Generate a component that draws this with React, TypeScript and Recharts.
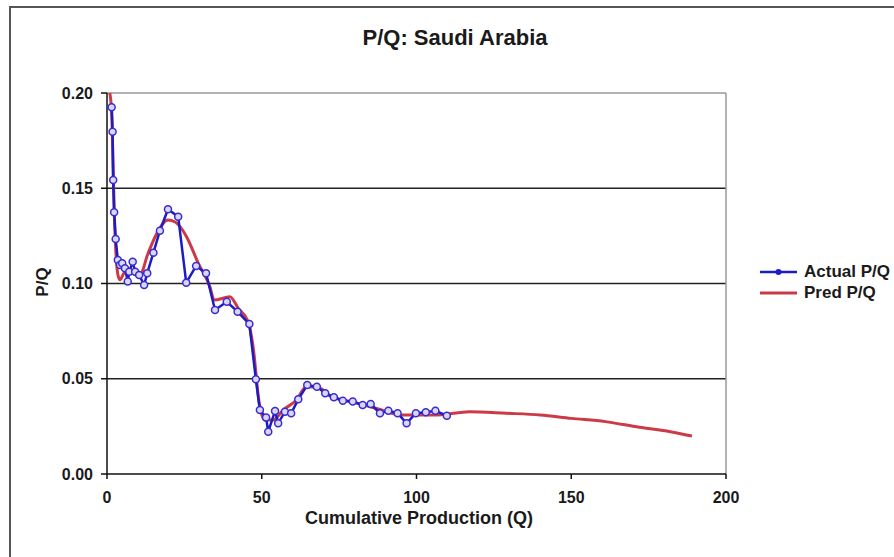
import { LineChart, Line, XAxis, YAxis, CartesianGrid, ReferenceLine, Legend } from 'recharts';

// Actual P/Q observations (cumulative production in Gb vs. P/Q)
const actualQ = [
  1.5, 1.8, 2.0, 2.3, 2.8, 3.5, 4.2, 4.9, 5.8, 6.7, 7.2, 8.3, 9.1, 10.4, 12.0, 13.0, 15.0, 17.1, 19.7, 23.0,
  25.6, 28.8, 32.0, 34.9, 38.7, 42.2, 46.0, 48.1, 49.4, 51.4, 52.1, 54.3, 55.3, 57.5, 59.5, 61.8, 64.7, 67.8,
  70.5, 73.3, 76.2, 79.4, 82.6, 85.2, 88.2, 90.9, 93.9, 96.8, 99.8, 103.0, 106.1, 109.8
];
const actualPQ = [
  0.1925, 0.1797, 0.1543, 0.1374, 0.1234, 0.1123, 0.1097, 0.1106, 0.108, 0.101, 0.1062, 0.1114, 0.1062, 0.1045,
  0.0992, 0.1054, 0.1162, 0.1277, 0.139, 0.1351, 0.1004, 0.1092, 0.1054, 0.0861, 0.0904, 0.0852, 0.0787, 0.0497,
  0.0336, 0.0296, 0.0222, 0.0331, 0.0266, 0.0327, 0.0319, 0.0392, 0.0467, 0.0458, 0.0424, 0.0403, 0.0385, 0.038,
  0.0362, 0.0367, 0.0319, 0.0332, 0.0319, 0.0266, 0.0319, 0.0324, 0.0332, 0.0306
];

// Fitted P/Q curve, extended past the last observation
const predQ = [
  0.9, 1.5, 2.0, 2.5, 3.0, 3.6, 4.2, 5.8, 7.5, 10.4, 13.3, 16.0, 19.7, 21.9, 25.7, 29.5, 33.3, 34.6, 39.7, 42.4,
  45.6, 47.2, 49.2, 51.0, 53.7, 56.9, 61.2, 64.4, 68.8, 72, 80, 88, 95, 100, 107, 117, 129, 140, 150, 161, 172,
  182, 189
];
const predPQ = [
  0.2, 0.19, 0.16, 0.13, 0.113, 0.104, 0.102, 0.106, 0.106, 0.1036, 0.116, 0.126, 0.1333, 0.1324, 0.1246, 0.1106,
  0.098, 0.0913, 0.093, 0.087, 0.08, 0.0668, 0.037, 0.0283, 0.0283, 0.0336, 0.0388, 0.0458, 0.045, 0.041, 0.0375,
  0.034, 0.031, 0.031, 0.031, 0.0327, 0.0319, 0.031, 0.0292, 0.0275, 0.0245, 0.0222, 0.0199
];

const xTicks = [0, 50, 100, 150, 200];
const yTicks = [0, 0.05, 0.1, 0.15, 0.2];

const actualData = actualQ.map((q, i) => ({ q, pq: actualPQ[i] }));
const predData = predQ.map((q, i) => ({ q, pq: predPQ[i] }));

const FONT = '"Liberation Sans", Arial, Helvetica, sans-serif';
const BLUE = '#1c1cc4';
const RED = '#cc3a48';

const renderLegend = () => (
  <div style={{ fontFamily: FONT, fontWeight: 700, fontSize: 17, color: '#1a1a1a' }}>
    {[
      { name: 'Actual P/Q', color: BLUE, dot: true },
      { name: 'Pred P/Q', color: RED, dot: false }
    ].map((item) => (
      <div key={item.name} style={{ display: 'flex', alignItems: 'center', height: 20.6 }}>
        <svg width={40} height={10} style={{ marginRight: 4 }}>
          <line x1={0} y1={5} x2={37} y2={5} stroke={item.color} strokeWidth={item.dot ? 2.5 : 3} />
          {item.dot && <circle cx={18.5} cy={5} r={3} fill={item.color} />}
        </svg>
        <span>{item.name}</span>
      </div>
    ))}
  </div>
);

export default function App() {
  return (
    <div style={{ position: 'absolute', left: 0, top: 0, width: 894, height: 557, background: '#fff', overflow: 'hidden' }}>
      {/* sheet frame */}
      <div style={{ position: 'absolute', left: 9, top: 6, width: 885, height: 551, borderLeft: '2px solid #555', borderTop: '2px solid #555' }} />

      <div
        style={{
          position: 'absolute', left: 0, width: 894, top: 25, textAlign: 'center', paddingLeft: 16, boxSizing: 'border-box',
          fontFamily: FONT, fontWeight: 700, fontSize: 22, color: '#1a1a1a'
        }}
      >
        P/Q: Saudi Arabia
      </div>

      <div
        style={{
          position: 'absolute', left: 42.5, top: 281.5, transform: 'translate(-50%, -50%) rotate(-90deg)',
          fontFamily: FONT, fontWeight: 700, fontSize: 17, color: '#1a1a1a', whiteSpace: 'nowrap'
        }}
      >
        P/Q
      </div>

      <div
        style={{
          position: 'absolute', left: 319, width: 200, top: 508, textAlign: 'center', whiteSpace: 'nowrap',
          fontFamily: FONT, fontWeight: 700, fontSize: 18, color: '#1a1a1a', display: 'flex', justifyContent: 'center'
        }}
      >
        Cumulative Production (Q)
      </div>

      <div style={{ position: 'absolute', left: 0, top: 0 }}>
        <LineChart width={894} height={557} margin={{ top: 93, right: 168, bottom: 43, left: 47 }}>
          <CartesianGrid horizontal vertical={false} horizontalValues={[0.05, 0.1, 0.15]} stroke="#222" strokeWidth={1.5} />
          <ReferenceLine y={0.2} stroke="#999" strokeWidth={1.5} />
          <ReferenceLine x={200} stroke="#999" strokeWidth={1.5} />
          <XAxis
            type="number"
            dataKey="q"
            domain={[0, 200]}
            ticks={xTicks}
            height={40}
            stroke="#111"
            strokeWidth={1.5}
            tickSize={5}
            tickMargin={13}
            allowDuplicatedCategory={false}
            tick={{ fill: '#1a1a1a', fontFamily: FONT, fontWeight: 700, fontSize: 16 }}
          />
          <YAxis
            type="number"
            domain={[0, 0.2]}
            ticks={yTicks}
            width={60}
            stroke="#111"
            strokeWidth={1.5}
            tickSize={6}
            tickMargin={8}
            tickFormatter={(v: number) => v.toFixed(2)}
            tick={{ fill: '#1a1a1a', fontFamily: FONT, fontWeight: 700, fontSize: 16 }}
          />
          <Legend
            layout="horizontal"
            verticalAlign="middle"
            align="center"
            content={renderLegend}
            wrapperStyle={{ position: 'absolute', left: 760, top: 262, width: 134 }}
          />
          <Line
            data={predData}
            dataKey="pq"
            name="Pred P/Q"
            type="monotone"
            stroke={RED}
            strokeWidth={3}
            dot={false}
            isAnimationActive={false}
          />
          <Line
            data={actualData}
            dataKey="pq"
            name="Actual P/Q"
            type="linear"
            stroke={BLUE}
            strokeWidth={2.5}
            dot={{ r: 3.5, stroke: '#3a2ad0', strokeWidth: 1.5, fill: '#d8d8f4' }}
            isAnimationActive={false}
          />
        </LineChart>
      </div>
    </div>
  );
}
